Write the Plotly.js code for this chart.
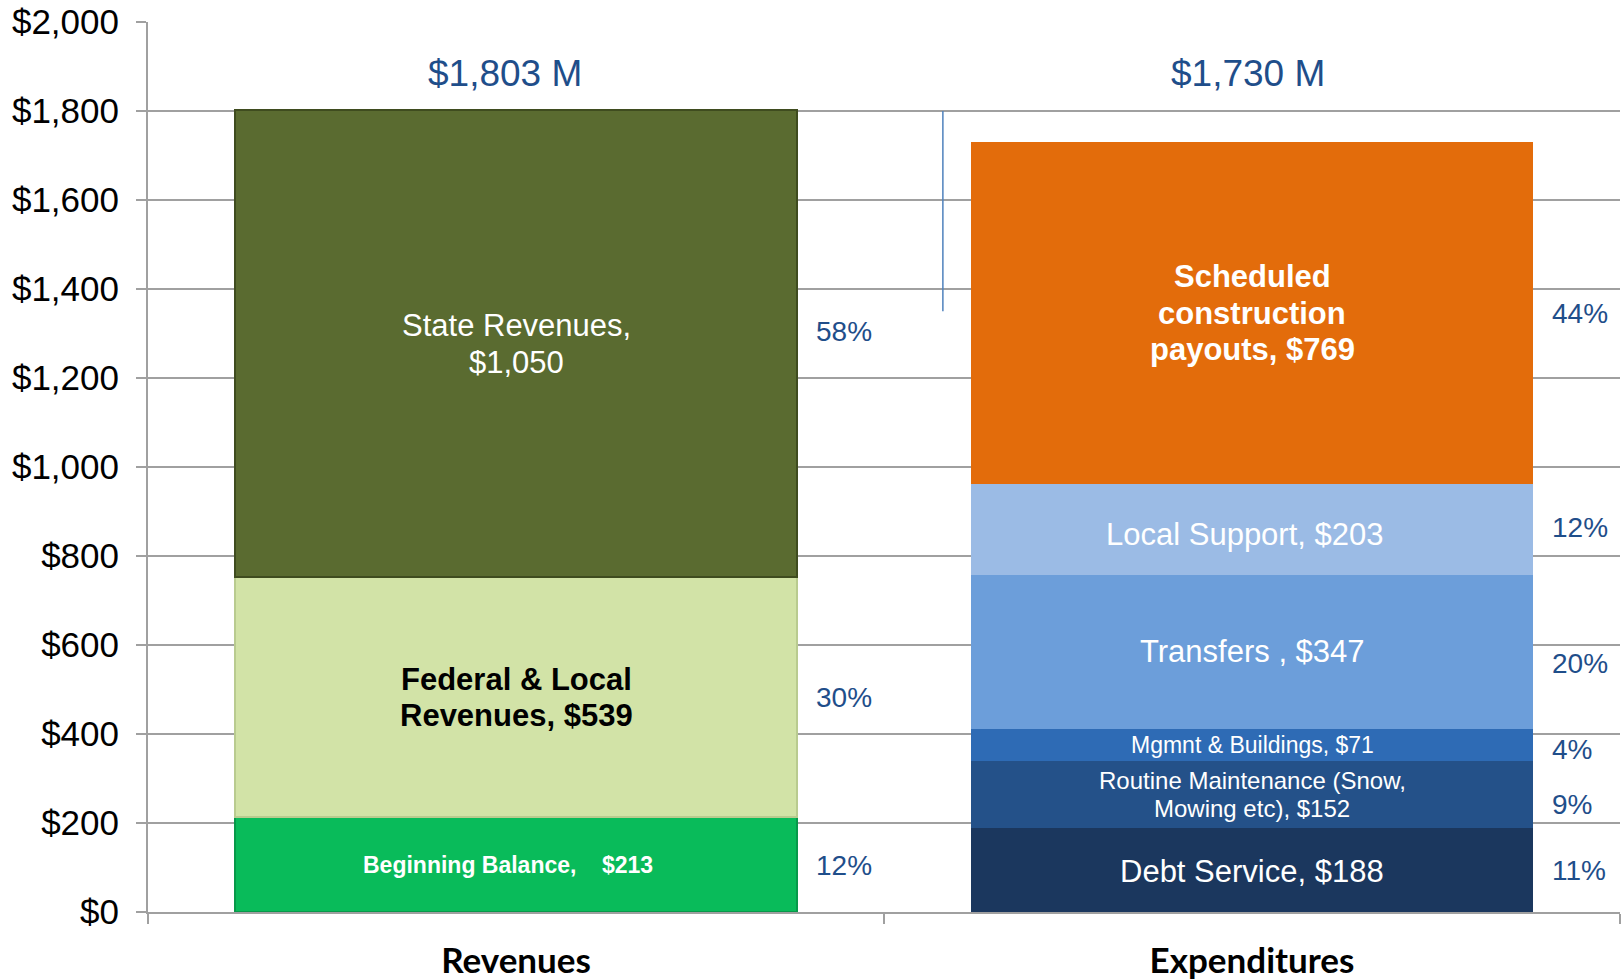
<!DOCTYPE html>
<html>
<head>
<meta charset="utf-8">
<script src="https://cdn.plot.ly/plotly-3.0.1.min.js"></script>
<style>
  html, body { margin: 0; padding: 0; background: #ffffff; }
  #chart { width: 1623px; height: 979px; }
</style>
</head>
<body>
<div id="chart"></div>
<script>
// ---------------- data ----------------
const categories = ['Revenues', 'Expenditures'];

const revenueNames = ['Beginning Balance', 'Federal & Local Revenues', 'State Revenues'];
const revenueValues = [213, 539, 1050];
const revenuePct = ['12%', '30%', '58%'];
const revenueLabels = [
  ['<b>Beginning Balance,\u00a0\u00a0\u00a0 $213</b>'],
  ['<b>Federal &amp; Local</b>', '<b>Revenues, $539</b>'],
  ['State Revenues,', '$1,050']
];

const expenditureNames = ['Debt Service', 'Routine Maintenance', 'Mgmnt & Buildings', 'Transfers', 'Local Support', 'Scheduled construction payouts'];
const expenditureValues = [188, 152, 71, 347, 203, 769];
const expenditurePct = ['11%', '9%', '4%', '20%', '12%', '44%'];
const expenditureLabels = [
  ['Debt Service, $188'],
  ['Routine Maintenance (Snow,', 'Mowing etc), $152'],
  ['Mgmnt &amp; Buildings, $71'],
  ['Transfers , $347'],
  ['Local Support, $203'],
  ['<b>Scheduled</b>', '<b>construction</b>', '<b>payouts, $769</b>']
];

const totalLabels = ['$1,803 M', '$1,730 M'];

const yTickVals = [0, 200, 400, 600, 800, 1000, 1200, 1400, 1600, 1800, 2000];
const yTickText = ['$0', '$200', '$400', '$600', '$800', '$1,000', '$1,200', '$1,400', '$1,600', '$1,800', '$2,000'];

// ---------------- styles ----------------
const revenueColors = ['#09BB5A', '#D2E3A7', '#5A6B30'];
const revenueEdge = ['#07994a', '#b9cb8f', '#3f4c1f'];
const expenditureColors = ['#1B375E', '#245189', '#2E6BB5', '#6C9EDA', '#9BBBE5', '#E36C0B'];

const revLabelSize = [23, 31, 31];
const revLabelColor = ['#ffffff', '#000000', '#ffffff'];
const revLabelXShift = [-8, 0, 0];
const revLabelYShift = [0, 0, 0];

const expLabelSize = [31, 24, 23, 31, 31, 31];
const expLabelXShift = [0, 0, 0, 0, -7, 0];
const expLabelYShift = [-1, 0, 0, 0, -5, 0];

const revPctYShift = [-1, 0, 12];
const expPctYShift = [0, -10, -5, -12, 2, 0];

const lineGapEm = 1.18;
const textBlue = '#1F4E8A';
const arial = 'Liberation Sans, Arial, sans-serif';
const barWidth = 0.764;

// ---------------- traces ----------------
const traces = [];
revenueValues.forEach((v, i) => {
  traces.push({
    type: 'bar', name: revenueNames[i], x: [categories[0]], y: [v],
    width: barWidth,
    marker: { color: revenueColors[i], line: { color: revenueEdge[i], width: 2 } },
    hoverinfo: 'name+y', showlegend: false
  });
});
expenditureValues.forEach((v, i) => {
  traces.push({
    type: 'bar', name: expenditureNames[i], x: [categories[1]], y: [v],
    width: barWidth,
    marker: { color: expenditureColors[i], line: { width: 0 } },
    hoverinfo: 'name+y', showlegend: false
  });
});

// ---------------- annotations ----------------
const annotations = [];
function addStack(catIndex, values, labels, sizes, colors, xs, ys, pcts, pys) {
  let base = 0;
  values.forEach((v, i) => {
    const mid = base + v / 2;
    const lines = labels[i];
    const gap = sizes[i] * lineGapEm;
    lines.forEach((ln, k) => {
      const off = ((lines.length - 1) / 2 - k) * gap;
      annotations.push({
        x: catIndex, y: mid, xref: 'x', yref: 'y', text: ln, showarrow: false,
        xanchor: 'center', yanchor: 'middle', xshift: xs[i], yshift: ys[i] + off,
        font: { family: arial, size: sizes[i], color: Array.isArray(colors) ? colors[i] : colors }
      });
    });
    annotations.push({
      x: catIndex + 0.405, y: mid, xref: 'x', yref: 'y', text: pcts[i], showarrow: false,
      xanchor: 'left', yanchor: 'middle', yshift: pys[i],
      font: { family: arial, size: 28, color: textBlue }
    });
    base += v;
  });
}
addStack(0, revenueValues, revenueLabels, revLabelSize, revLabelColor, revLabelXShift, revLabelYShift, revenuePct, revPctYShift);
addStack(1, expenditureValues, expenditureLabels, expLabelSize, '#ffffff', expLabelXShift, expLabelYShift, expenditurePct, expPctYShift);

const totalXShift = [-11, -4];
totalLabels.forEach((t, i) => {
  annotations.push({
    x: i, y: 1885, xref: 'x', yref: 'y', text: t, showarrow: false,
    xanchor: 'center', yanchor: 'middle', xshift: totalXShift[i],
    font: { family: arial, size: 37, color: textBlue }
  });
});

// ---------------- layout ----------------
const layout = {
  width: 1623, height: 979,
  margin: { l: 148, r: 3, t: 22, b: 67, pad: 0 },
  paper_bgcolor: '#ffffff', plot_bgcolor: '#ffffff',
  barmode: 'stack',
  showlegend: false,
  xaxis: {
    type: 'category', categoryorder: 'array', categoryarray: categories,
    range: [-0.5, 1.5],
    showline: true, linecolor: '#a0a0a0', linewidth: 2,
    ticks: 'outside', tickson: 'boundaries', ticklen: 10, tickcolor: '#a0a0a0', tickwidth: 2,
    showgrid: false, zeroline: false,
    tickfont: { family: 'Lato, Carlito, Calibri, sans-serif', size: 35, color: '#000000', weight: 'bold' },
    ticklabelstandoff: 17,
    fixedrange: true
  },
  yaxis: {
    range: [0, 2000],
    tickvals: yTickVals, ticktext: yTickText,
    showline: true, linecolor: '#a0a0a0', linewidth: 2,
    ticks: 'outside', ticklen: 10, tickcolor: '#a0a0a0', tickwidth: 2,
    showgrid: true, gridcolor: '#a0a0a0', gridwidth: 1.5,
    zeroline: false,
    tickfont: { family: arial, size: 35, color: '#000000' },
    ticklabelstandoff: 10,
    fixedrange: true
  },
  shapes: [{
    type: 'line', xref: 'x', yref: 'y', x0: 0.58, x1: 0.58, y0: 1800, y1: 1350,
    line: { color: '#4F81BD', width: 1.5 }, layer: 'above'
  }],
  annotations: annotations
};

Plotly.newPlot('chart', traces, layout, { displayModeBar: false, staticPlot: true });
</script>
</body>
</html>
